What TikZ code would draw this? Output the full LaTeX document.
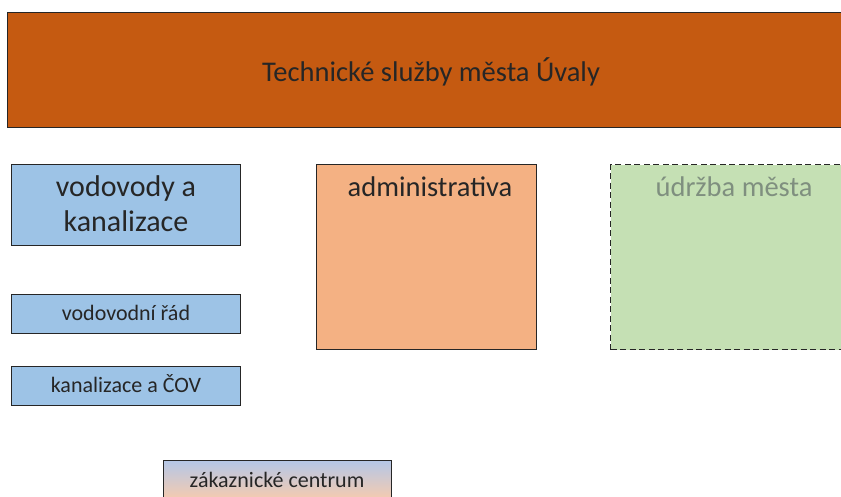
\documentclass[tikz,border=0pt]{standalone}
\usepackage{fontspec}
\setmainfont{Carlito}
\definecolor{topc}{HTML}{C55A11}
\definecolor{bluec}{HTML}{9DC3E6}
\definecolor{orangec}{HTML}{F4B183}
\definecolor{greenc}{HTML}{C5E0B4}
\definecolor{greytext}{HTML}{7F8F7F}
\definecolor{gradtop}{HTML}{B4C7E7}
\definecolor{gradbot}{HTML}{F8CBAD}
\definecolor{linec}{HTML}{262626}
\tikzset{
  box/.style={draw=linec, line width=1pt, rectangle, inner sep=0pt},
  txt/.style={inner sep=0pt, text=black!85},
}
\begin{document}
\begin{tikzpicture}[x=1pt,y=-1pt]
\useasboundingbox[fill=white] (0,0) rectangle (841,496);
\node[box, fill=topc, minimum width=840pt, minimum height=115pt, anchor=north west] (top) at (7,12) {};
\node[txt, anchor=base, font=\fontsize{28.5}{32}\selectfont] (toptxt) at (431,81) {Technické služby města Úvaly};
\node[box, fill=bluec, minimum width=229pt, minimum height=81pt, anchor=north west] (vk) at (11,164) {};
\node[txt, anchor=base, font=\fontsize{30}{35}\selectfont] (vktxt1) at (126,196) {vodovody a};
\node[txt, anchor=base, font=\fontsize{30}{35}\selectfont] (vktxt2) at (126,231) {kanalizace};
\node[box, fill=bluec, minimum width=229pt, minimum height=39pt, anchor=north west] (vr) at (11,294) {};
\node[txt, anchor=base, font=\fontsize{22}{26}\selectfont] (vrtxt) at (126,320) {vodovodní řád};
\node[box, fill=bluec, minimum width=229pt, minimum height=39pt, anchor=north west] (kc) at (11,366) {};
\node[txt, anchor=base, font=\fontsize{22}{26}\selectfont] (kctxt) at (126,392) {kanalizace a ČOV};
\node[box, fill=orangec, minimum width=220pt, minimum height=185pt, anchor=north west] (adm) at (316,164) {};
\node[txt, anchor=base, font=\fontsize{28.5}{32}\selectfont] (admtxt) at (430,196) {administrativa};
\node[box, dashed, line width=1.3pt, dash pattern=on 6pt off 3.5pt, fill=greenc, minimum width=250pt, minimum height=185pt, anchor=north west] (ud) at (610,164) {};
\node[txt, anchor=base, text=greytext, font=\fontsize{28.5}{32}\selectfont] (udtxt) at (734,196) {údržba města};
\node[box, top color=gradtop, bottom color=gradbot, minimum width=228pt, minimum height=40pt, anchor=north west] (zc) at (163,460) {};
\node[txt, anchor=base, font=\fontsize{22}{26}\selectfont] (zctxt) at (277,487) {zákaznické centrum};
\end{tikzpicture}
\end{document}
